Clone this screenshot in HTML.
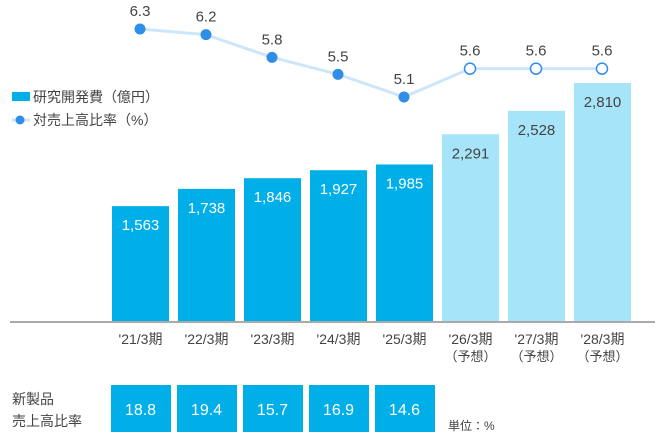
<!DOCTYPE html>
<html><head><meta charset="utf-8"><style>
body{margin:0;background:#fff;}
svg text{font-family:"Liberation Sans","Noto Sans CJK JP",sans-serif;}
</style></head><body>
<svg id="chart" width="660" height="440" viewBox="0 0 660 440" xmlns="http://www.w3.org/2000/svg">
<g>
<rect x="12" y="92" width="18" height="9" fill="#00aee8"/>
<text x="33" y="102" font-size="14" fill="#444">研究開発費（億円）</text>
<line x1="12" y1="120" x2="30" y2="120" stroke="#cde6fb" stroke-width="3"/>
<circle cx="20" cy="120" r="4.5" fill="#2f8ee8"/>
<text x="33" y="125" font-size="14" fill="#444">対売上高比率（%）</text>
</g>
<line x1="10" y1="322" x2="655" y2="322" stroke="#555" stroke-width="1"/>
<g id="bars"></g><g id="line"></g><g id="labels"></g><g id="bottom"></g>
<text x="12" y="404" font-size="14" fill="#444">新製品</text>
<text x="12" y="426" font-size="14" fill="#444">売上高比率</text>
<text x="448" y="430" font-size="12" fill="#444">単位：%</text>
</svg>
<script>
const categories=["'21/3期","'22/3期","'23/3期","'24/3期","'25/3期","'26/3期","'27/3期","'28/3期"];
const forecast=[false,false,false,false,false,true,true,true];
const rdValues=[1563,1738,1846,1927,1985,2291,2528,2810];
const ratioValues=[6.3,6.2,5.8,5.5,5.1,5.6,5.6,5.6];
const newProductValues=[18.8,19.4,15.7,16.9,14.6];
const NS="http://www.w3.org/2000/svg";
function xc(i){return 140+66*i;}
function yb(v){return 321-(v-400)*238/2410;}
function yl(v){return 97-(v-5.1)*68/1.2;}
function mk(tag,attrs,parent,txt){const e=document.createElementNS(NS,tag);for(const k in attrs)e.setAttribute(k,attrs[k]);if(txt!==undefined)e.textContent=txt;parent.appendChild(e);return e;}
const gb=document.getElementById('bars'),gl=document.getElementById('line'),gt=document.getElementById('labels'),gbt=document.getElementById('bottom');
rdValues.forEach((v,i)=>{
 const r=mk('rect',{x:xc(i)-28,y:yb(v),width:57,height:321-yb(v),fill:forecast[i]?'#a6e4f9':'#00aee8'},gb);
 
 
 const t=mk('text',{x:xc(i)+0.5,y:yb(v)+24,'font-size':15,'text-anchor':'middle',fill:forecast[i]?'#444':'#fff'},gt,v.toLocaleString('en-US'));
 
 
 const c=mk('text',{x:xc(i)+0.5,y:344,'font-size':14,'text-anchor':'middle',fill:'#444'},gt,categories[i]);
 
 
 if(forecast[i]){const f=mk('text',{x:xc(i)+0.5,y:361,'font-size':13,'text-anchor':'middle',fill:'#444'},gt,'（予想）');
 
 }
});
const pts=ratioValues.map((v,i)=>xc(i)+','+yl(v)).join(' ');
const pl=mk('polyline',{points:pts,fill:'none',stroke:'#cde6fb','stroke-width':3},gl);


ratioValues.forEach((v,i)=>{
 const c=mk('circle',{cx:xc(i),cy:yl(v),r:5.5,fill:forecast[i]?'#fff':'#2f8ee8',stroke:'#2f8ee8','stroke-width':forecast[i]?1.5:0},gl);
 
 
 const t=mk('text',{x:xc(i),y:yl(v)-13,'font-size':15,'text-anchor':'middle',fill:'#444'},gl,v.toFixed(1));
 
 
});
newProductValues.forEach((v,i)=>{
 const r=mk('rect',{x:xc(i)-29,y:385,width:60,height:47,fill:'#00aee8'},gbt);
 
 
 const t=mk('text',{x:xc(i)+0.5,y:415,'font-size':16,'text-anchor':'middle',fill:'#fff'},gbt,v.toFixed(1));
 
 
});
</script>
</body></html>
